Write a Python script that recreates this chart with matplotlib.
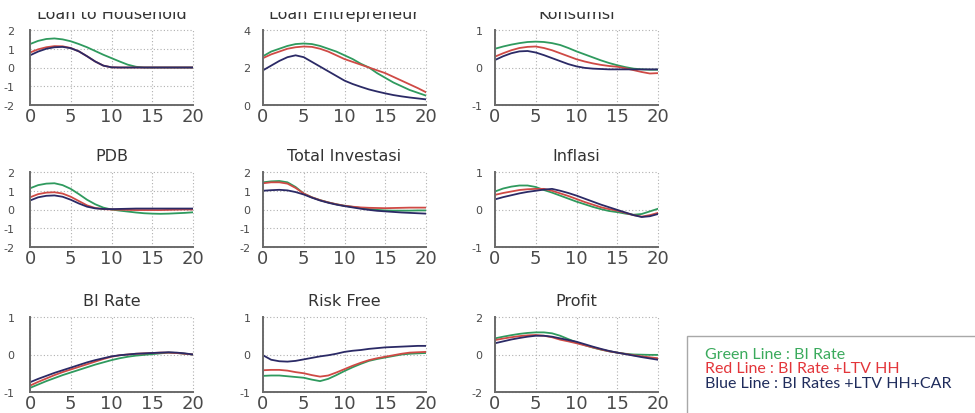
import matplotlib
matplotlib.use("Agg")
import matplotlib.pyplot as plt
from matplotlib.patches import Rectangle

plt.rcParams["axes.unicode_minus"] = False

# Horizon (quarters)
horizon = list(range(21))

titles = ["Loan to Household", "Loan Entrepreneur", "Konsumsi",
          "PDB", "Total Investasi", "Inflasi",
          "BI Rate", "Risk Free", "Profit"]

# Impulse responses: green = BI Rate, red = BI Rate + LTV HH, blue = BI Rates + LTV HH + CAR
loan_hh_green = [1.25, 1.42, 1.52, 1.55, 1.5, 1.4, 1.25, 1.08, 0.88, 0.68, 0.5, 0.32, 0.15, 0.04, 0, 0, 0, 0, 0, 0, 0]
loan_hh_red = [0.8, 0.97, 1.08, 1.14, 1.13, 1.04, 0.86, 0.6, 0.32, 0.1, 0.01, 0, 0, 0, 0, 0, 0, 0, 0, 0, 0]
loan_hh_blue = [0.65, 0.85, 1.0, 1.08, 1.1, 1.03, 0.86, 0.6, 0.32, 0.1, 0.01, 0, 0, 0, 0, 0, 0, 0, 0, 0, 0]

loan_ent_green = [2.6, 2.85, 3.0, 3.15, 3.25, 3.28, 3.25, 3.15, 3.0, 2.85, 2.65, 2.45, 2.2, 2.0, 1.7, 1.45, 1.2, 1.0, 0.8, 0.65, 0.5]
loan_ent_red = [2.5, 2.7, 2.85, 3.0, 3.08, 3.12, 3.1, 3.0, 2.85, 2.65, 2.45, 2.3, 2.15, 2.0, 1.85, 1.7, 1.5, 1.3, 1.1, 0.9, 0.68]
loan_ent_blue = [1.85, 2.1, 2.35, 2.55, 2.65, 2.55, 2.3, 2.05, 1.8, 1.55, 1.3, 1.12, 0.97, 0.83, 0.72, 0.62, 0.53, 0.46, 0.4, 0.35, 0.3]

konsumsi_green = [0.5, 0.56, 0.61, 0.65, 0.68, 0.69, 0.68, 0.65, 0.6, 0.52, 0.43, 0.35, 0.27, 0.19, 0.12, 0.06, 0.01, -0.03, -0.05, -0.06, -0.06]
konsumsi_red = [0.29, 0.38, 0.46, 0.52, 0.55, 0.56, 0.52, 0.46, 0.38, 0.3, 0.22, 0.16, 0.11, 0.07, 0.04, 0.02, -0.02, -0.07, -0.12, -0.16, -0.15]
konsumsi_blue = [0.2, 0.3, 0.38, 0.43, 0.44, 0.4, 0.33, 0.25, 0.17, 0.09, 0.03, -0.01, -0.03, -0.04, -0.05, -0.05, -0.05, -0.05, -0.05, -0.05, -0.05]

pdb_green = [1.13, 1.3, 1.38, 1.4, 1.3, 1.1, 0.82, 0.52, 0.28, 0.1, 0.0, -0.06, -0.11, -0.16, -0.2, -0.22, -0.23, -0.22, -0.2, -0.18, -0.15]
pdb_red = [0.65, 0.82, 0.9, 0.92, 0.85, 0.68, 0.45, 0.22, 0.08, 0.02, 0.0, -0.01, -0.02, -0.03, -0.03, -0.03, -0.03, -0.02, -0.01, 0, 0]
pdb_blue = [0.48, 0.65, 0.73, 0.75, 0.68, 0.52, 0.32, 0.15, 0.06, 0.03, 0.02, 0.03, 0.04, 0.05, 0.05, 0.05, 0.05, 0.05, 0.05, 0.05, 0.05]

invest_green = [1.45, 1.5, 1.52, 1.45, 1.2, 0.85, 0.65, 0.5, 0.38, 0.28, 0.2, 0.14, 0.08, 0.03, -0.02, -0.05, -0.06, -0.06, -0.06, -0.05, -0.05]
invest_red = [1.4, 1.45, 1.45, 1.38, 1.15, 0.85, 0.65, 0.5, 0.38, 0.28, 0.2, 0.15, 0.11, 0.09, 0.08, 0.07, 0.08, 0.09, 0.1, 0.1, 0.1]
invest_blue = [1.0, 1.03, 1.05, 1.02, 0.93, 0.8, 0.63, 0.48, 0.36, 0.26, 0.18, 0.11, 0.04, -0.02, -0.07, -0.1, -0.13, -0.16, -0.18, -0.2, -0.22]

inflasi_green = [0.48, 0.56, 0.61, 0.64, 0.64, 0.6, 0.52, 0.45, 0.37, 0.29, 0.21, 0.14, 0.07, 0.01, -0.04, -0.07, -0.11, -0.14, -0.12, -0.05, 0.02]
inflasi_red = [0.39, 0.44, 0.48, 0.52, 0.54, 0.55, 0.55, 0.5, 0.43, 0.36, 0.28, 0.2, 0.13, 0.06, 0.01, -0.03, -0.09, -0.15, -0.19, -0.15, -0.09]
inflasi_blue = [0.27, 0.33, 0.38, 0.43, 0.47, 0.5, 0.53, 0.55, 0.5, 0.44, 0.37, 0.29, 0.21, 0.13, 0.06, -0.01, -0.08, -0.15, -0.2, -0.18, -0.12]

birate_green = [-0.89, -0.8, -0.71, -0.63, -0.55, -0.48, -0.41, -0.34, -0.27, -0.21, -0.15, -0.1, -0.06, -0.03, -0.01, 0.01, 0.03, 0.05, 0.04, 0.02, 0.0]
birate_red = [-0.83, -0.73, -0.64, -0.55, -0.47, -0.4, -0.33, -0.26, -0.19, -0.12, -0.06, -0.02, 0.0, 0.02, 0.03, 0.04, 0.05, 0.05, 0.04, 0.02, 0.0]
birate_blue = [-0.74, -0.65, -0.57, -0.49, -0.42, -0.35, -0.28, -0.21, -0.15, -0.1, -0.05, -0.02, 0.0, 0.02, 0.03, 0.04, 0.05, 0.06, 0.05, 0.03, 0.0]

riskfree_green = [-0.57, -0.56, -0.56, -0.58, -0.6, -0.62, -0.67, -0.71, -0.65, -0.55, -0.44, -0.34, -0.25, -0.17, -0.12, -0.08, -0.04, 0.0, 0.02, 0.03, 0.04]
riskfree_red = [-0.42, -0.41, -0.41, -0.43, -0.47, -0.5, -0.55, -0.59, -0.56, -0.48, -0.39, -0.3, -0.22, -0.15, -0.1, -0.06, -0.02, 0.02, 0.05, 0.06, 0.07]
riskfree_blue = [-0.02, -0.14, -0.18, -0.19, -0.17, -0.13, -0.09, -0.05, -0.02, 0.02, 0.07, 0.1, 0.12, 0.15, 0.17, 0.19, 0.2, 0.21, 0.22, 0.23, 0.23]

profit_green = [0.86, 0.95, 1.03, 1.1, 1.15, 1.18, 1.18, 1.13, 1.0, 0.82, 0.65, 0.5, 0.37, 0.26, 0.17, 0.1, 0.04, 0.0, -0.01, -0.02, -0.02]
profit_red = [0.77, 0.85, 0.92, 0.98, 1.02, 1.04, 1.0, 0.92, 0.79, 0.7, 0.6, 0.49, 0.38, 0.27, 0.17, 0.1, 0.03, -0.04, -0.1, -0.15, -0.2]
profit_blue = [0.6, 0.7, 0.8, 0.88, 0.95, 1.0, 1.0, 0.95, 0.86, 0.77, 0.68, 0.55, 0.42, 0.3, 0.19, 0.1, 0.02, -0.06, -0.14, -0.21, -0.28]

y_ticks = [[-2, -1, 0, 1, 2], [0, 2, 4], [-1, 0, 1],
           [-2, -1, 0, 1, 2], [-2, -1, 0, 1, 2], [-1, 0, 1],
           [-1, 0, 1], [-1, 0, 1], [-2, 0, 2]]
x_ticks = [0, 5, 10, 15, 20]

legend_lines = ["Green Line : BI Rate", "Red Line : BI Rate +LTV HH",
                "Blue Line : BI Rates +LTV HH+CAR"]

series = [
    (loan_hh_green, loan_hh_red, loan_hh_blue),
    (loan_ent_green, loan_ent_red, loan_ent_blue),
    (konsumsi_green, konsumsi_red, konsumsi_blue),
    (pdb_green, pdb_red, pdb_blue),
    (invest_green, invest_red, invest_blue),
    (inflasi_green, inflasi_red, inflasi_blue),
    (birate_green, birate_red, birate_blue),
    (riskfree_green, riskfree_red, riskfree_blue),
    (profit_green, profit_red, profit_blue),
]

line_colors = ["#2f9a5e", "#cf4a45", "#2b2a66"]
legend_colors = ["#3aaa5c", "#e3353a", "#1f2c5c"]

W, H = 975, 414
fig = plt.figure(figsize=(W / 100, H / 100), dpi=100)
fig.patch.set_facecolor("white")

col_left = [30, 263, 495]
row_top = [31, 173, 318]
ax_w, ax_h = 163, 75
ypad = [11, 9, 9]

for i in range(9):
    r, c = divmod(i, 3)
    left = col_left[c] / W
    bottom = 1 - (row_top[r] + ax_h) / H
    ax = fig.add_axes([left, bottom, ax_w / W, ax_h / H])
    g, rd, b = series[i]
    ax.plot(horizon, g, color=line_colors[0], lw=1.3)
    ax.plot(horizon, rd, color=line_colors[1], lw=1.3)
    ax.plot(horizon, b, color=line_colors[2], lw=1.3)
    yt = y_ticks[i]
    ax.set_xlim(0, 20)
    ax.set_ylim(yt[0], yt[-1])
    ax.set_xticks(x_ticks)
    ax.set_yticks(yt)
    ax.grid(True, color="#b0b0b0", linestyle=(0, (1, 2)), linewidth=0.8)
    for gl in ax.get_xgridlines() + ax.get_ygridlines():
        gl.set_clip_on(False)
    for s in ("top", "right"):
        ax.spines[s].set_visible(False)
    for s in ("left", "bottom"):
        ax.spines[s].set_color("#6a6a6a")
        ax.spines[s].set_linewidth(1.4)
    ax.tick_params(axis="x", length=0, pad=1.5, labelsize=13, labelcolor="#4a4a4a")
    ax.tick_params(axis="y", length=0, pad=ypad[c], labelsize=8, labelcolor="#4a4a4a")
    ax.set_title(titles[i], fontsize=11.5, color="#333333", pad=8.5)
    ax.set_facecolor("white")

# white band across the top edge of the figure
fig.add_artist(Rectangle((0, 1 - 13 / H), 1, 13 / H, transform=fig.transFigure,
                         facecolor="white", edgecolor="none", zorder=10))

# legend box
fig.add_artist(Rectangle((687 / W, -0.05), 1, 1 - 337 / H + 0.05,
                         transform=fig.transFigure, facecolor="white",
                         edgecolor="#a8a8a8", linewidth=1.0, zorder=5))
for k, txt in enumerate(legend_lines):
    fig.text(705 / W, 1 - (355 + 14.5 * k) / H, txt, color=legend_colors[k],
             fontsize=11.5, family="Lato", va="center", ha="left", zorder=6)

fig.savefig("out.png", dpi=100, facecolor="white")
